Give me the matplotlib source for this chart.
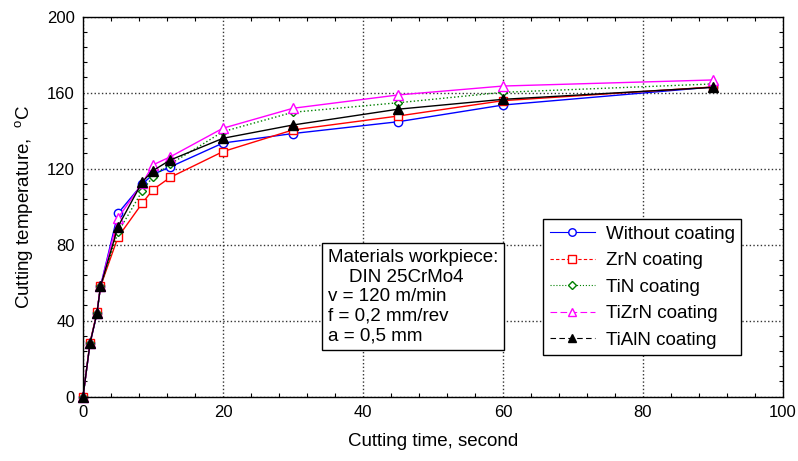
import numpy as np
import matplotlib.pyplot as plt
from matplotlib.lines import Line2D
from matplotlib.ticker import MultipleLocator

plt.rcParams['font.family'] = ['Liberation Sans', 'DejaVu Sans']
plt.rcParams['mathtext.fontset'] = 'custom'
plt.rcParams['mathtext.rm'] = 'Liberation Sans'

# cutting time, s
time_s = [0, 1, 2, 2.5, 5, 8.5, 10, 12.5, 20, 30, 45, 60, 90]

# cutting temperature, deg C
t_without = [0, 28, 44, 58, 96.5, 112, 117, 121, 133.5, 138.5, 144.7, 153.5, 163]
t_zrn = [0, 28.5, 44.5, 58, 84, 102, 109, 115.5, 129, 140.4, 147.7, 155.8, 163]
t_tin = [0, 28, 44, 58, 86.5, 108.5, 115.8, 122.5, 139.5, 149.7, 154.7, 160.2, 164.6]
t_tizrn = [0, 28, 44, 58, 94, 112.5, 122, 126.3, 141.3, 151.8, 158.8, 163.5, 166.7]
t_tialn = [0, 28, 44, 58, 89.5, 113.2, 119, 124.6, 136, 143, 151.3, 156.5, 162.8]

labels = ['Without coating', 'ZrN coating', 'TiN coating',
          'TiZrN coating', 'TiAlN coating']
series = [t_without, t_zrn, t_tin, t_tizrn, t_tialn]
colors = ['#0000ff', '#ff0000', '#008000', '#ff00ff', '#000000']
markers = ['o', 's', 'D', '^', '^']
msizes = [6, 6, 4.5, 6.5, 6.5]
faces = ['white', 'white', 'white', 'white', '#000000']
plot_styles = ['-', '-', ':', '-', '-']
legend_styles = ['-', (0, (3, 2)), ':', (0, (6, 3)), (0, (5, 3))]

fig = plt.figure(figsize=(7.98, 4.61), dpi=100)
ax = fig.add_axes([0.104, 0.1395, 0.877, 0.8243])

for y, c, m, ms, fc, ls in zip(series, colors, markers, msizes, faces,
                               plot_styles):
    ax.plot(time_s, y, color=c, ls=ls, lw=1, marker=m, ms=ms, mfc=fc,
            mec=c, mew=1, clip_on=False)

ax.set_xlim(0, 100)
ax.set_ylim(0, 200)
ax.xaxis.set_major_locator(MultipleLocator(20))
ax.xaxis.set_minor_locator(MultipleLocator(4))
ax.yaxis.set_major_locator(MultipleLocator(40))
ax.yaxis.set_minor_locator(MultipleLocator(8))
ax.tick_params(which='both', direction='in', top=True, right=True,
               labelsize=12, width=0.8)
ax.tick_params(which='major', length=0, pad=6)
ax.tick_params(which='minor', length=3)
ax.grid(True, which='major', ls=':', lw=1, color='#333333')
for s in ax.spines.values():
    s.set_linewidth(1)

ax.set_xlabel('Cutting time, second', fontsize=13.5, labelpad=9)
ax.set_ylabel('Cutting temperature,  $^{\\mathrm{o}}$C', fontsize=13.5,
              labelpad=8)

# legend uses its own dash patterns
handles = [Line2D([], [], color=c, ls=ls, lw=0.8, marker=m, ms=ms * 0.9,
                  mfc=fc, mec=c)
           for c, ls, m, ms, fc in zip(colors, legend_styles, markers,
                                       msizes, faces)]
leg = ax.legend(handles, labels, loc='upper left',
                bbox_to_anchor=(543 / 798, 1 - 219 / 461),
                bbox_transform=fig.transFigure, fontsize=13.5,
                frameon=True, fancybox=False, edgecolor='black',
                framealpha=1, handlelength=2.4, handletextpad=0.6,
                labelspacing=0.5, borderpad=0.35, borderaxespad=0)
leg.get_frame().set_linewidth(1)

info = ('Materials workpiece:\n    DIN 25CrMo4\nv = 120 m/min\n'
        'f = 0,2 mm/rev\na = 0,5 mm')
fig.text(328 / 798, 1 - 249 / 461, info, ha='left', va='top',
         fontsize=13.5, linespacing=1.2,
         bbox=dict(boxstyle='square,pad=0.3', fc='white', ec='black',
                   lw=1))

fig.savefig('out.png', dpi=100)
